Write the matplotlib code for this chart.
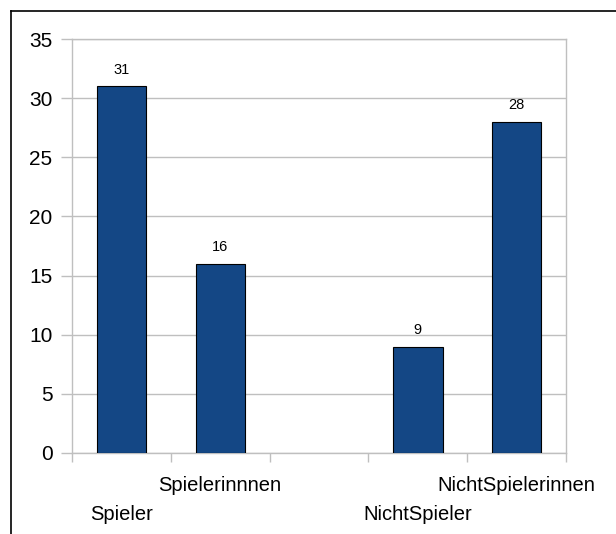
import matplotlib.pyplot as plt
from matplotlib.lines import Line2D

plt.rcParams['font.family'] = ['Liberation Sans', 'DejaVu Sans']

# Categories (the third slot stays empty) and counts
categories = ['Spieler', 'Spielerinnnen', '', 'NichtSpieler', 'NichtSpielerinnen']
counts = [31, 16, None, 9, 28]
label_rows = [0, 1, 0, 0, 1]  # 0 = lower row, 1 = upper row

bar_color = '#144785'
grid_color = '#bfbfbf'

fig = plt.figure(figsize=(6.16, 5.34), dpi=100)
ax = fig.add_axes([72 / 616, 1 - 453 / 534, (566 - 72) / 616, (453 - 39) / 534])

xs = [i + 0.5 for i, v in enumerate(counts) if v is not None]
vals = [v for v in counts if v is not None]
bars = ax.bar(xs, vals, width=0.5, color=bar_color, edgecolor='black', linewidth=0.8, zorder=3)

for x, v in zip(xs, vals):
    ax.annotate(str(v), (x, v), xytext=(0, 7), textcoords='offset points',
                ha='center', va='bottom', fontsize=10.5)

ax.set_xlim(0, 5)
ax.set_ylim(0, 35)
ax.set_yticks(range(0, 36, 5))
ax.set_xticks(range(0, 6))
ax.set_xticklabels([])
ax.tick_params(axis='y', direction='out', length=8, width=1, color=grid_color,
               labelsize=15, pad=6)
ax.tick_params(axis='x', direction='out', length=6.5, width=1, color=grid_color)
ax.yaxis.grid(True, color=grid_color, linewidth=1, zorder=0)
ax.set_axisbelow(True)
for s in ax.spines.values():
    s.set_color(grid_color)
    s.set_linewidth(1)

# Category labels in two staggered rows below the axis
for i, (name, row) in enumerate(zip(categories, label_rows)):
    if not name:
        continue
    y = -0.078 if row == 1 else -0.148
    ax.text(i + 0.5, y, name, transform=ax.get_xaxis_transform(),
            ha='center', va='center', fontsize=14.5)

# Frame lines along the top and left of the figure
fig.add_artist(Line2D([11 / 616, 1], [1 - 11 / 534, 1 - 11 / 534], color='black', linewidth=1.2))
fig.add_artist(Line2D([11 / 616, 11 / 616], [0, 1 - 11 / 534], color='black', linewidth=1.2))

fig.savefig('out.png', dpi=100)
